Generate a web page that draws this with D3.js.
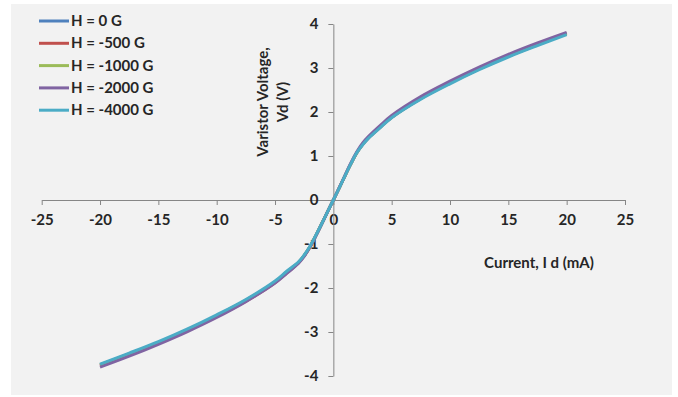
<!DOCTYPE html>
<html>
<head>
<meta charset="utf-8">
<script src="https://cdn.jsdelivr.net/npm/d3@7"></script>
<style>
  html, body { margin: 0; padding: 0; background: #ffffff; }
  svg { display: block; }
  text { font-family: Lato, "Open Sans", "DejaVu Sans", sans-serif; font-weight: bold; fill: #262626; }
</style>
</head>
<body>
<script>
// Current sweep (mA)
const current = [-20, -17.5, -15, -12.5, -10, -7.5, -5, -4, -3, -2.5, -2, -1.5, -1, -0.5,
                 0, 0.5, 1, 1.5, 2, 2.5, 3, 4, 5, 7.5, 10, 12.5, 15, 17.5, 20];

// Varistor voltage (V) for each applied field
const v0 = [-3.75, -3.50, -3.24, -2.95, -2.63, -2.28, -1.86, -1.64, -1.42, -1.26, -1.06, -0.81, -0.54, -0.27,
            0, 0.27, 0.55, 0.82, 1.07, 1.26, 1.41, 1.65, 1.88, 2.31, 2.66, 2.98, 3.27, 3.53, 3.78];
const v500 = [-3.77, -3.52, -3.26, -2.97, -2.65, -2.30, -1.88, -1.66, -1.43, -1.27, -1.07, -0.81, -0.54, -0.27,
              0, 0.27, 0.55, 0.82, 1.07, 1.26, 1.41, 1.65, 1.88, 2.31, 2.66, 2.98, 3.27, 3.53, 3.78];
const v1000 = [-3.75, -3.50, -3.24, -2.95, -2.63, -2.28, -1.86, -1.64, -1.42, -1.26, -1.06, -0.81, -0.54, -0.27,
               0, 0.27, 0.55, 0.82, 1.07, 1.26, 1.41, 1.65, 1.88, 2.31, 2.66, 2.98, 3.27, 3.53, 3.78];
const v2000 = [-3.80, -3.55, -3.28, -2.99, -2.67, -2.31, -1.89, -1.67, -1.44, -1.28, -1.07, -0.82, -0.55, -0.27,
               0, 0.28, 0.56, 0.84, 1.09, 1.29, 1.44, 1.69, 1.92, 2.35, 2.70, 3.02, 3.31, 3.57, 3.81];
const v4000 = [-3.73, -3.48, -3.22, -2.93, -2.61, -2.26, -1.84, -1.62, -1.41, -1.25, -1.05, -0.80, -0.54, -0.27,
               0, 0.27, 0.55, 0.82, 1.07, 1.25, 1.40, 1.64, 1.87, 2.29, 2.64, 2.96, 3.25, 3.51, 3.76];

const seriesNames = ["H = 0 G", "H = -500 G", "H = -1000 G", "H = -2000 G", "H = -4000 G"];
const seriesValues = [v0, v500, v1000, v2000, v4000];
const seriesColors = ["#4F81BD", "#C0504D", "#9BBB59", "#8064A2", "#4BACC6"];

const xTicks = [-25, -20, -15, -10, -5, 0, 5, 10, 15, 20, 25];
const yTicks = [-4, -3, -2, -1, 0, 1, 2, 3, 4];

const W = 678, H = 397;
const FONT = "Lato, 'Open Sans', sans-serif";
const svg = d3.select("body").append("svg").attr("width", W).attr("height", H);

// chart area
svg.append("rect").attr("x", 11).attr("y", 4).attr("width", 661).attr("height", 391)
  .attr("fill", "#f2f2f2");

const x = d3.scaleLinear().domain([-25, 25]).range([41.7, 625]);
const y = d3.scaleLinear().domain([-4, 4]).range([376, 24]);

const axisColor = "#868686";
const plainNumber = d => String(d);

// horizontal axis through V = 0
const gx = svg.append("g").attr("transform", `translate(0,${y(0)})`)
  .call(d3.axisBottom(x).tickValues(xTicks).tickFormat(plainNumber)
    .tickSize(5).tickSizeOuter(0).tickPadding(9));
gx.select(".domain").attr("stroke", axisColor);
gx.selectAll(".tick line").attr("stroke", axisColor);
gx.selectAll(".tick text").attr("font-size", 15).attr("fill", "#262626")
  .attr("font-family", FONT).attr("font-weight", "bold");

// vertical axis through I = 0
const gy = svg.append("g").attr("transform", `translate(${x(0)},0)`)
  .call(d3.axisLeft(y).tickValues(yTicks).tickFormat(plainNumber)
    .tickSize(5).tickSizeOuter(0).tickPadding(10));
gy.select(".domain").attr("stroke", axisColor);
gy.selectAll(".tick line").attr("stroke", axisColor);
gy.selectAll(".tick text").attr("font-size", 15).attr("fill", "#262626")
  .attr("font-family", FONT).attr("font-weight", "bold");

// series lines (smoothed)
const line = d3.line()
  .x((d, i) => x(current[i]))
  .y(d => y(d))
  .curve(d3.curveCatmullRom.alpha(0.5));

seriesValues.forEach((vals, k) => {
  svg.append("path").datum(vals)
    .attr("d", line)
    .attr("fill", "none")
    .attr("stroke", seriesColors[k])
    .attr("stroke-width", 3)
    .attr("stroke-linejoin", "round");
});

// axis titles
svg.append("text").attr("transform", "translate(268,102) rotate(-90)")
  .attr("text-anchor", "middle").attr("font-size", 15).text("Varistor Voltage,");
svg.append("text").attr("transform", "translate(288,102) rotate(-90)")
  .attr("text-anchor", "middle").attr("font-size", 15).text("Vd (V)");
svg.append("text").attr("x", 539).attr("y", 268)
  .attr("text-anchor", "middle").attr("font-size", 15).text("Current, I d (mA)");

// legend
const legend = svg.append("g");
seriesNames.forEach((name, k) => {
  const ly = 21 + k * 22.3;
  legend.append("line").attr("x1", 39).attr("x2", 69).attr("y1", ly).attr("y2", ly)
    .attr("stroke", seriesColors[k]).attr("stroke-width", 3);
  legend.append("text").attr("x", 71).attr("y", ly + 5)
    .attr("font-size", 15).text(name);
});
</script>
</body>
</html>
